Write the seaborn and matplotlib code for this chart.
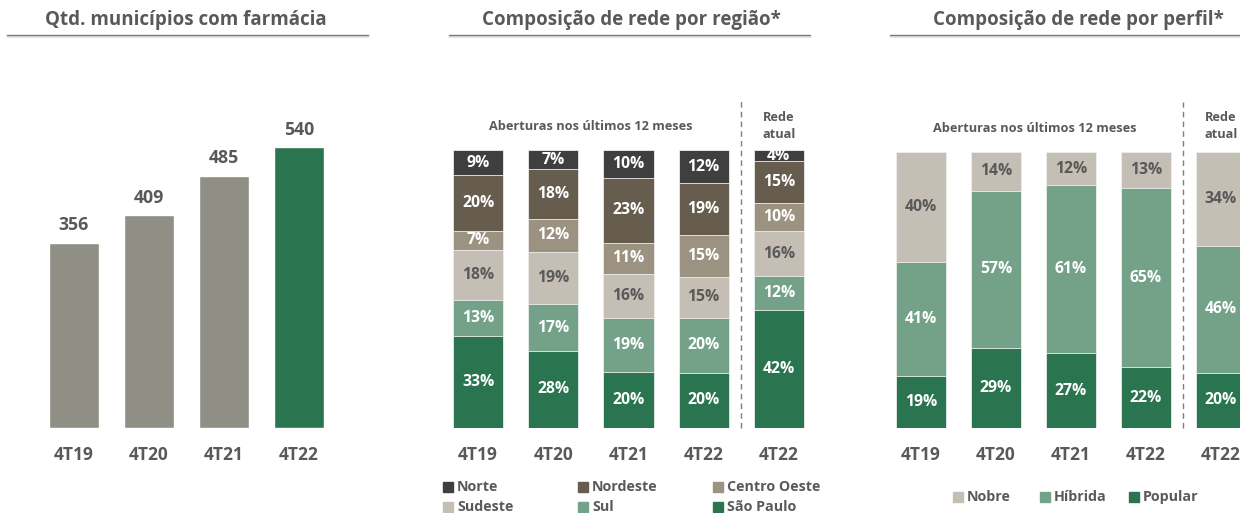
import numpy as np
import pandas as pd
import matplotlib
matplotlib.use("Agg")
import matplotlib.pyplot as plt
from matplotlib.patches import Rectangle
from matplotlib.lines import Line2D
import seaborn as sns

# ---------------- data ----------------
mun_quarters = ["4T19", "4T20", "4T21", "4T22"]
mun_values = [356, 409, 485, 540]

comp_labels = ["4T19", "4T20", "4T21", "4T22", "4T22"]  # last bar = "Rede atual"

# regions, stacked bottom -> top
region_names = ["São Paulo", "Sul", "Sudeste", "Centro Oeste", "Nordeste", "Norte"]
sao_paulo = [33, 28, 20, 20, 42]
sul = [13, 17, 19, 20, 12]
sudeste = [18, 19, 16, 15, 16]
centro_oeste = [7, 12, 11, 15, 10]
nordeste = [20, 18, 23, 19, 15]
norte = [9, 7, 10, 12, 4]

# profiles, stacked bottom -> top
profile_names = ["Popular", "Híbrida", "Nobre"]
popular = [19, 29, 27, 22, 20]
hibrida = [41, 57, 61, 65, 46]
nobre = [40, 14, 12, 13, 34]

titles = ["Qtd. municípios com farmácia", "Composição de rede por região*", "Composição de rede por perfil*"]
sub_title = "Aberturas nos últimos 12 meses"
current_label = "Rede\natual"

# ---------------- style ----------------
GRAY_BAR = "#8f8f85"
GREEN = "#2a7550"
TXT = "#595959"
region_colors = [GREEN, "#74a289", "#c5beb4", "#9c9281", "#675d4f", "#3f3f3f"]
region_text = ["white", "white", TXT, "white", "white", "white"]
profile_colors = [GREEN, "#74a289", "#c5beb4"]
profile_text = ["white", "white", TXT]

sns.set_style("white")
plt.rcParams["font.family"] = ["Open Sans", "DejaVu Sans"]
plt.rcParams["font.weight"] = "bold"

W, H = 1240, 513
fig = plt.figure(figsize=(W / 100, H / 100), dpi=100)

FS_TITLE = 13.5
FS_TICK = 12.5
FS_VAL = 12.8
FS_PCT = 11.3
FS_SUB = 9.2
FS_LEG = 10.3


def px_axes(left, right, top, bottom):
    return fig.add_axes([left / W, 1 - bottom / H, (right - left) / W, (bottom - top) / H])


def fx(x):
    return x / W


def fy(y):
    return 1 - y / H


def clean(ax):
    ax.set_xlabel("")
    ax.set_ylabel("")
    ax.set_yticks([])
    for s in ax.spines.values():
        s.set_visible(False)
    ax.tick_params(axis="x", length=0, pad=13, labelsize=FS_TICK, labelcolor=TXT)


def stacked(ax, series, colors, tcolors):
    arr = np.array(series, dtype=float)
    totals = arr.sum(axis=0)
    shares = arr / totals * 100
    cum = np.cumsum(shares, axis=0)
    pos = np.arange(arr.shape[1])
    for k in range(arr.shape[0] - 1, -1, -1):
        df = pd.DataFrame({"pos": pos, "h": cum[k]})
        sns.barplot(data=df, x="pos", y="h", color=colors[k], width=0.667,
                    errorbar=None, saturation=1, ax=ax,
                    edgecolor="#eeeeee", linewidth=0.6)
    for k in range(arr.shape[0]):
        for i in pos:
            ax.text(i, cum[k, i] - shares[k, i] / 2, f"{int(arr[k, i])}%",
                    ha="center", va="center", fontsize=FS_PCT, color=tcolors[k])
    ax.set_ylim(0, 100)
    ax.set_xlim(-0.8, 4.8)
    ax.set_xticks(pos)
    ax.set_xticklabels(comp_labels)
    clean(ax)
    ax.axvline(3.5, ymin=0, ymax=(428 - 100) / (428 - 150), color="#7f7f7f",
               linestyle=(0, (4, 3)), linewidth=1, clip_on=False)


# ---------------- panel 1 ----------------
ax1 = px_axes(14, 359, 147, 428)
sns.barplot(x=mun_quarters, y=mun_values, hue=mun_quarters,
            palette=[GRAY_BAR, GRAY_BAR, GRAY_BAR, GREEN], width=0.667,
            saturation=1, legend=False, ax=ax1)
for c in ax1.containers:
    ax1.bar_label(c, padding=6, fontsize=FS_VAL, color=TXT)
ax1.set_ylim(0, max(mun_values))
ax1.set_xlim(-0.8, 3.8)
clean(ax1)

# ---------------- panel 2 ----------------
ax2 = px_axes(418, 839, 150, 428)
stacked(ax2, [sao_paulo, sul, sudeste, centro_oeste, nordeste, norte],
        region_colors, region_text)

# ---------------- panel 3 ----------------
ax3 = px_axes(861, 1281, 152, 428)
stacked(ax3, [popular, hibrida, nobre], profile_colors, profile_text)

# ---------------- titles & decorations ----------------
for cx, x0, x1, t in [(186, 7, 368, titles[0]), (631, 449, 810, titles[1]),
                      (1078, 890, 1240, titles[2])]:
    fig.text(fx(cx), fy(20), t, ha="center", va="center", fontsize=FS_TITLE, color=TXT)
    fig.add_artist(Line2D([fx(x0), fx(x1)], [fy(36), fy(36)], color="#e4e4e4", lw=2))
    fig.add_artist(Line2D([fx(x0), fx(x1)], [fy(35), fy(35)], color="#7a7a7a", lw=1))

fig.text(fx(591), fy(126), sub_title, ha="center", va="center", fontsize=FS_SUB, color=TXT)
fig.text(fx(1035), fy(128), sub_title, ha="center", va="center", fontsize=FS_SUB, color=TXT)
fig.text(fx(779), fy(126), current_label, ha="center", va="center", fontsize=FS_SUB,
         color=TXT, linespacing=1.45)
fig.text(fx(1221), fy(126), current_label, ha="center", va="center", fontsize=FS_SUB,
         color=TXT, linespacing=1.45)

# ---------------- legends ----------------
def legend_item(x, y, color, label):
    fig.add_artist(Rectangle((fx(x), fy(y + 5)), 10 / W, 10 / H, color=color,
                             transform=fig.transFigure))
    fig.text(fx(x + 14), fy(y), label, ha="left", va="center", fontsize=FS_LEG, color=TXT)


reg_legend = [(443, 487, 5), (578, 487, 4), (713, 487, 3),
              (443, 507, 2), (578, 507, 1), (713, 507, 0)]
for x, y, k in reg_legend:
    legend_item(x, y, region_colors[k], region_names[k])

prof_legend = [(953, 497, 2), (1040, 497, 1), (1129, 497, 0)]
for x, y, k in prof_legend:
    legend_item(x, y, profile_colors[k], profile_names[k])

fig.savefig("out.png", dpi=100)
